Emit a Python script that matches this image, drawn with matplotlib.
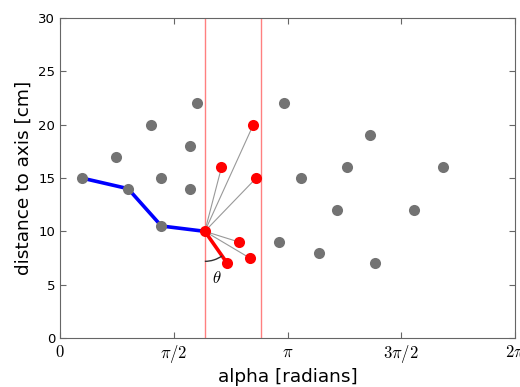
import numpy as np
import matplotlib
matplotlib.use('Agg')
import matplotlib.pyplot as plt
from matplotlib.patches import Arc
from matplotlib.transforms import IdentityTransform

plt.rcParams['mathtext.fontset'] = 'cm'

# candidate points (gray)
gray_x = [0.30, 0.77, 0.94, 1.25, 1.40, 1.40, 1.80, 1.80, 1.89, 3.10,
          3.33, 3.02, 3.57, 3.82, 3.96, 4.28, 4.35, 4.89, 5.29]
gray_y = [15, 17, 14, 20, 15, 10.5, 18, 14, 22, 22,
          15, 9, 8, 12, 16, 19, 7, 12, 16]

# points inside the window (red)
red_x = [2.23, 2.67, 2.71, 2.47, 2.62, 2.31]
red_y = [16, 20, 15, 9, 7.5, 7]

# path found so far
path_x = [0.30, 0.94, 1.40, 2.0]
path_y = [15, 14, 10.5, 10]

cur_x, cur_y = 2.0, 10
chosen = 5  # index in red list
window = [2.0, 2.78]

xticks = [0, np.pi/2, np.pi, 3*np.pi/2, 2*np.pi]
xticklabels = ['$0$', r'$\pi/2$', r'$\pi$', r'$3\pi/2$', r'$2\pi$']

fig = plt.figure(figsize=(5.2, 3.87), dpi=100)
ax = fig.add_axes([60/520, 1-338/387, 455/520, 320/387])

for w in window:
    ax.axvline(w, color='#ff8080', linewidth=1, zorder=1)

for x, y in zip(red_x, red_y):
    ax.plot([cur_x, x], [cur_y, y], color='#999999', linewidth=0.8, zorder=2)

ax.plot(path_x, path_y, color='blue', linewidth=2.6, zorder=3)
ax.plot([cur_x, red_x[chosen]], [cur_y, red_y[chosen]], color='red', linewidth=2.6, zorder=3)

ax.plot(gray_x, gray_y, 'o', color='#737373', markersize=8, markeredgewidth=0, zorder=4)
ax.plot(red_x + [cur_x], red_y + [cur_y], 'o', color='red', markersize=8, markeredgewidth=0, zorder=5)

ax.set_xlim(0, 2*np.pi)
ax.set_ylim(0, 30)
ax.set_xticks(xticks)
ax.set_xticklabels(xticklabels, fontsize=12)
ax.set_yticks(range(0, 31, 5))
ax.tick_params(axis='y', labelsize=9.5)
ax.tick_params(direction='in', top=True, right=True, length=4, color='#666666')
for s in ax.spines.values():
    s.set_color('#666666')

ax.set_xlabel('alpha [radians]', fontsize=13.3, labelpad=2)
ax.set_ylabel('distance to axis [cm]', fontsize=13.3)

# angle arc between vertical and chosen step
c = ax.transData.transform((cur_x, cur_y))
p = ax.transData.transform((red_x[chosen], red_y[chosen]))
ang = np.degrees(np.arctan2(p[1]-c[1], p[0]-c[0]))
ax.add_patch(Arc(c, 60, 60, theta1=-90, theta2=ang, transform=IdentityTransform(),
                 color='#333333', linewidth=1, zorder=6))
ax.text(2.17, 5.6, r'$\theta$', fontsize=12, ha='center', va='center')

fig.savefig('out.png', dpi=100)
